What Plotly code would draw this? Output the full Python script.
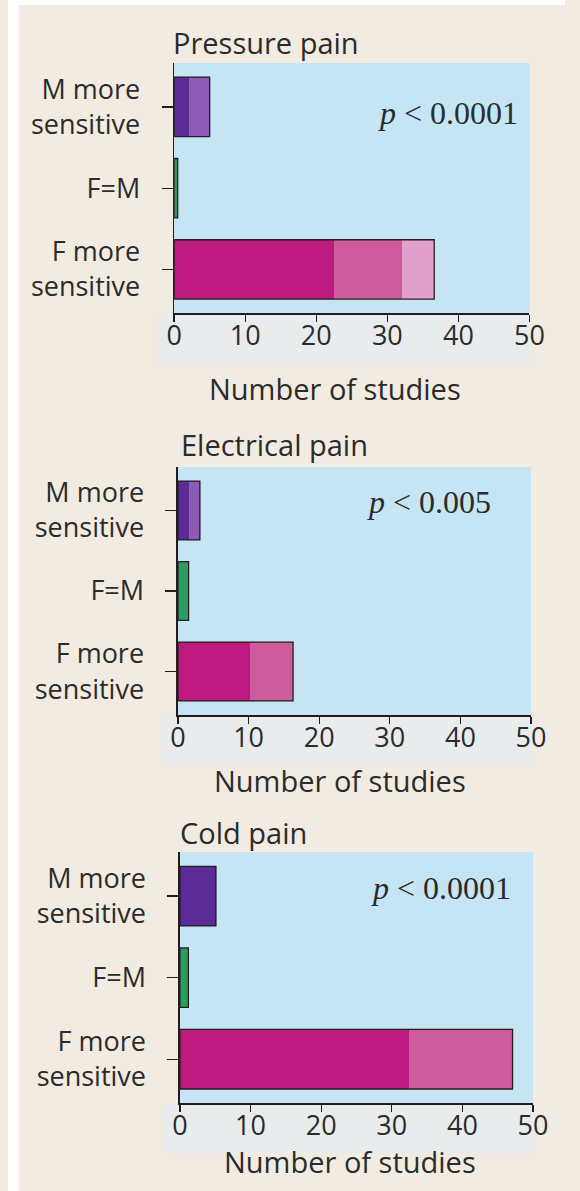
import plotly.graph_objects as go

W, H = 580, 1191

# ---------------- data ----------------
categories = ["F more<br>sensitive", "F=M", "M more<br>sensitive"]
x_ticks = [0, 10, 20, 30, 40, 50]
panel_titles = ["Pressure pain", "Electrical pain", "Cold pain"]
p_labels = ["<i>p</i> &lt; 0.0001", "<i>p</i> &lt; 0.005", "<i>p</i> &lt; 0.0001"]
x_title = "Number of studies"

# segment lengths (number of studies), darkest segment first
pressure_f = [22.5, 9.5, 4.6]
pressure_eq = [0.5]
pressure_m = [2.1, 2.9]

electrical_f = [10.2, 6.1]
electrical_eq = [1.5]
electrical_m = [1.5, 1.6]

cold_f = [32.4, 14.7]
cold_eq = [1.2]
cold_m = [5.1]

f_colors = ["#bd1a80", "#ce5c9d", "#e2a1cc"]
eq_colors = ["#2a9d62"]
m_colors = ["#5b2b97", "#8b5bb5"]

# ---------------- layout geometry (pixels) ----------------
panels = [
    dict(f=pressure_f, eq=pressure_eq, m=pressure_m,
         x0=173, x1=543, y0=63, y1=313.3,
         title_xy=(169.5, 42.5), p_xy=(382.7, 113.3), xt_xy=(340, 388)),
    dict(f=electrical_f, eq=electrical_eq, m=electrical_m,
         x0=177, x1=544.6, y0=467, y1=715,
         title_xy=(177.6, 444.2), p_xy=(371.8, 501.7), xt_xy=(345.5, 780)),
    dict(f=cold_f, eq=cold_eq, m=cold_m,
         x0=179, x1=546.7, y0=852, y1=1103.3,
         title_xy=(176.8, 832.5), p_xy=(375.5, 887.5), xt_xy=(356, 1161.5)),
]

def px(v):
    return v / W

def py(v):
    return 1 - v / H

TEXT = "#2b2b2b"
LINE = "#241c1c"
SANS = "Open Sans"
SERIF = "Liberation Serif"

fig = go.Figure()
layout = dict(
    width=W, height=H, margin=dict(l=0, r=0, t=0, b=0),
    paper_bgcolor="#f1ebe1", plot_bgcolor="rgba(0,0,0,0)",
    barmode="overlay", showlegend=False, bargap=0,
    annotations=[], shapes=[],
)

# white frame strips at left / top of the page
layout["shapes"].append(dict(type="rect", xref="paper", yref="paper", x0=0, x1=px(11), y0=0, y1=1,
                             fillcolor="white", line_width=0, layer="below"))
layout["shapes"].append(dict(type="rect", xref="paper", yref="paper", x0=0, x1=1, y0=py(5), y1=1,
                             fillcolor="white", line_width=0, layer="below"))

for i, p in enumerate(panels):
    sfx = "" if i == 0 else str(i + 1)
    xa, ya = "x" + sfx, "y" + sfx

    groups = [(categories[0], p["f"], f_colors),
              (categories[1], p["eq"], eq_colors),
              (categories[2], p["m"], m_colors)]
    for cat, segs, cols in groups:
        cum = []
        s = 0
        for v in segs:
            s += v
            cum.append(s)
        for k in reversed(range(len(segs))):
            fig.add_trace(go.Bar(x=[cum[k]], y=[cat], orientation="h", width=0.73,
                                 marker=dict(color=cols[k], line=dict(width=0)),
                                 xaxis=xa, yaxis=ya, hoverinfo="skip"))
        fig.add_trace(go.Bar(x=[cum[-1]], y=[cat], orientation="h", width=0.73,
                             marker=dict(color="rgba(0,0,0,0)", line=dict(width=1.3, color=LINE)),
                             xaxis=xa, yaxis=ya, hoverinfo="skip"))

    layout["xaxis" + sfx] = dict(
        domain=[px(p["x0"]), px(p["x1"])], anchor=ya, range=[0, 50],
        tickvals=x_ticks, ticks="outside", ticklen=7, tickwidth=1.3, tickcolor=LINE,
        showline=True, linecolor=LINE, linewidth=1.5, showgrid=False, zeroline=False,
        tickfont=dict(family=SANS, size=27, color=TEXT), ticklabelstandoff=-9,
        fixedrange=True,
    )
    layout["yaxis" + sfx] = dict(
        domain=[py(p["y1"]), py(p["y0"])], anchor=xa, type="category",
        categoryorder="array", categoryarray=categories, range=[-0.54, 2.54],
        ticks="outside", ticklen=11, tickwidth=1.3, tickcolor=LINE,
        showline=True, linecolor=LINE, linewidth=1.5, showgrid=False, zeroline=False,
        tickfont=dict(family=SANS, size=27, color=TEXT), ticklabelstandoff=16,
        fixedrange=True,
    )

    # soft light halo below the axis (tick-label area)
    layout["shapes"].append(dict(type="rect", xref="paper", yref="paper",
                                 x0=px(p["x0"] - 17), x1=px(p["x1"] + 3),
                                 y0=py(p["y1"] + 50), y1=py(p["y1"]),
                                 fillcolor="#e8eced", line_width=0, layer="below"))
    # blue plot background
    layout["shapes"].append(dict(type="rect", xref=xa + " domain", yref=ya + " domain",
                                 x0=0, x1=1, y0=0, y1=1,
                                 fillcolor="#c5e5f5", line_width=0, layer="below"))

    tx, ty = p["title_xy"]
    layout["annotations"].append(dict(text=panel_titles[i], xref="paper", yref="paper",
                                      x=px(tx), y=py(ty), xanchor="left", yanchor="middle",
                                      showarrow=False, font=dict(family=SANS, size=29, color=TEXT)))
    ppx, ppy = p["p_xy"]
    layout["annotations"].append(dict(text=p_labels[i], xref="paper", yref="paper",
                                      x=px(ppx), y=py(ppy), xanchor="left", yanchor="middle",
                                      showarrow=False, font=dict(family=SERIF, size=32, color=TEXT)))
    ax_, ay_ = p["xt_xy"]
    layout["annotations"].append(dict(text=x_title, xref="paper", yref="paper",
                                      x=px(ax_), y=py(ay_), xanchor="center", yanchor="middle",
                                      showarrow=False, font=dict(family=SANS, size=29, color=TEXT)))

fig.update_layout(**layout)
fig.write_html("out.html", config={"displayModeBar": False, "staticPlot": True},
               post_script="document.body.style.margin='0';document.body.style.overflow='hidden';")
